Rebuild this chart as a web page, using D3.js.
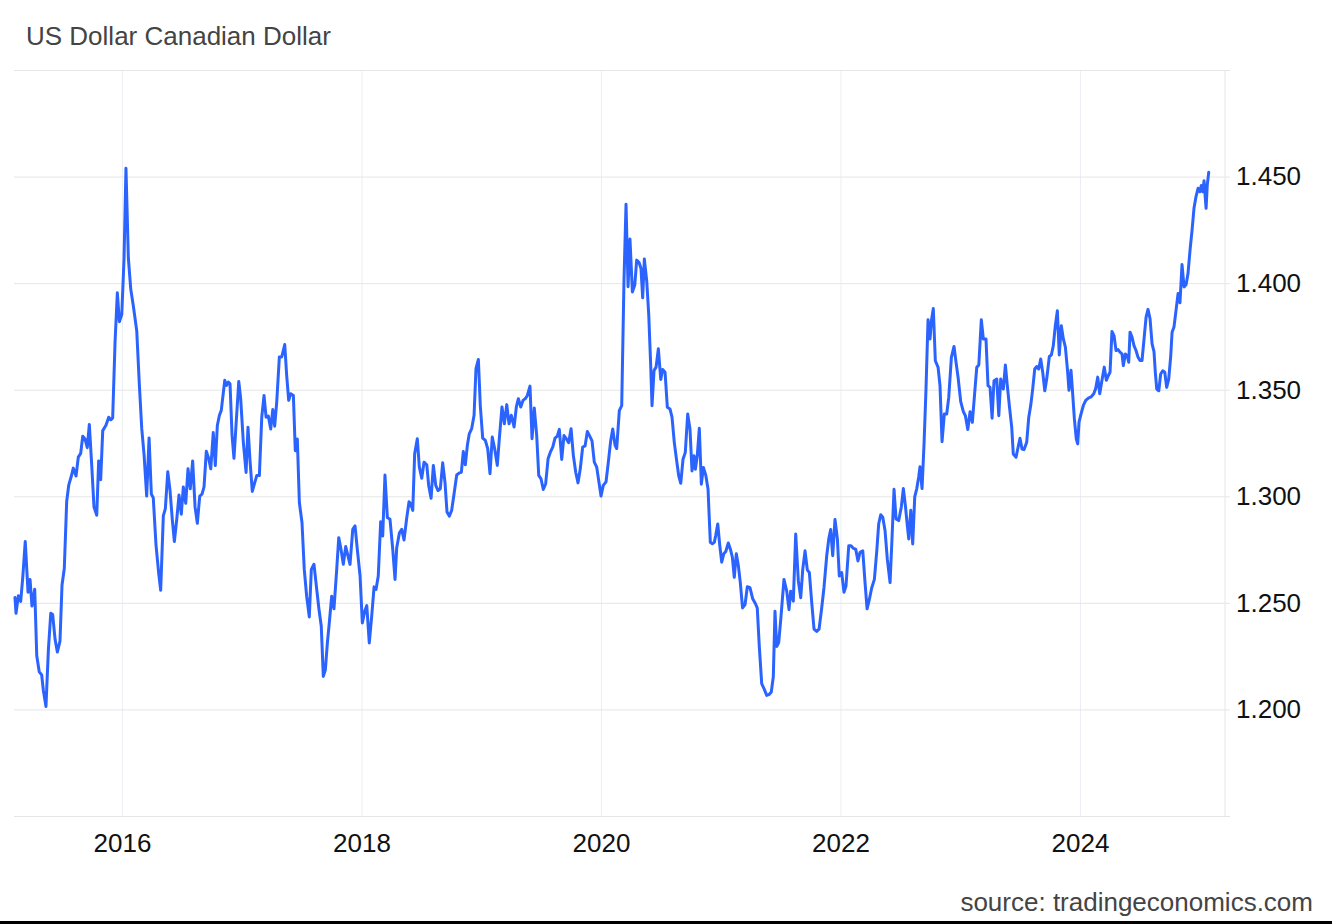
<!DOCTYPE html>
<html>
<head>
<meta charset="utf-8">
<script src="https://cdn.jsdelivr.net/npm/d3@7"></script>
<style>
  html, body { margin: 0; padding: 0; background: #fff; }
  svg { display: block; font-family: "Liberation Sans", Arial, sans-serif; }
</style>
</head>
<body>
<svg id="chart" width="1332" height="924"></svg>
<script>
const title = "US Dollar Canadian Dollar";
const source = "source: tradingeconomics.com";
const xTicks = [2016, 2018, 2020, 2022, 2024];
const yTicks = [1.20, 1.25, 1.30, 1.35, 1.40, 1.45];
const yDomain = [1.15, 1.50];
const xDomain = [2015.098, 2025.211];

// decimal-year dates of the weekly observations
const years = [
2015.106,2015.115,2015.134,2015.154,2015.171,2015.192,2015.215,2015.232,2015.248,2015.271,
2015.288,2015.309,2015.329,2015.343,2015.365,2015.385,2015.405,2015.421,2015.441,2015.460,
2015.482,2015.499,2015.518,2015.538,2015.555,2015.577,2015.593,2015.616,2015.635,2015.655,
2015.672,2015.691,2015.710,2015.727,2015.747,2015.766,2015.789,2015.805,2015.822,2015.839,
2015.866,2015.889,2015.906,2015.922,2015.942,2015.961,2015.978,2015.998,2016.017,2016.033,
2016.053,2016.073,2016.094,2016.123,2016.145,2016.165,2016.184,2016.206,2016.226,2016.245,
2016.261,2016.284,2016.307,2016.323,2016.345,2016.362,2016.382,2016.401,2016.420,2016.437,
2016.457,2016.476,2016.495,2016.512,2016.532,2016.551,2016.570,2016.590,2016.610,2016.629,
2016.649,2016.668,2016.685,2016.704,2016.724,2016.741,2016.762,2016.779,2016.796,2016.813,
2016.829,2016.858,2016.874,2016.888,2016.902,2016.919,2016.935,2016.952,2016.975,2016.991,
2017.013,2017.036,2017.052,2017.069,2017.088,2017.105,2017.125,2017.147,2017.167,2017.186,
2017.203,2017.222,2017.242,2017.259,2017.275,2017.292,2017.314,2017.334,2017.359,2017.375,
2017.392,2017.409,2017.431,2017.447,2017.464,2017.481,2017.503,2017.522,2017.542,2017.564,
2017.581,2017.603,2017.626,2017.645,2017.664,2017.681,2017.698,2017.715,2017.731,2017.751,
2017.770,2017.793,2017.810,2017.829,2017.848,2017.868,2017.887,2017.904,2017.927,2017.946,
2017.965,2017.988,2018.007,2018.027,2018.044,2018.065,2018.085,2018.105,2018.121,2018.140,
2018.160,2018.177,2018.196,2018.216,2018.238,2018.261,2018.280,2018.294,2018.316,2018.336,
2018.355,2018.378,2018.397,2018.411,2018.428,2018.444,2018.466,2018.483,2018.503,2018.522,
2018.545,2018.561,2018.581,2018.600,2018.620,2018.639,2018.658,2018.678,2018.697,2018.714,
2018.733,2018.753,2018.773,2018.795,2018.817,2018.834,2018.850,2018.867,2018.884,2018.900,
2018.920,2018.940,2018.956,2018.976,2018.992,2019.012,2019.034,2019.054,2019.073,2019.092,
2019.112,2019.134,2019.151,2019.173,2019.193,2019.213,2019.232,2019.251,2019.274,2019.293,
2019.310,2019.330,2019.349,2019.368,2019.385,2019.407,2019.424,2019.443,2019.463,2019.480,
2019.499,2019.518,2019.538,2019.558,2019.577,2019.597,2019.616,2019.635,2019.652,2019.672,
2019.691,2019.710,2019.730,2019.750,2019.769,2019.789,2019.808,2019.827,2019.847,2019.867,
2019.886,2019.906,2019.925,2019.944,2019.964,2019.983,2020.000,2020.019,2020.042,2020.061,
2020.081,2020.098,2020.117,2020.131,2020.153,2020.173,2020.192,2020.209,2020.226,2020.242,
2020.262,2020.282,2020.298,2020.318,2020.334,2020.348,2020.362,2020.382,2020.399,2020.415,
2020.426,2020.443,2020.460,2020.479,2020.499,2020.515,2020.535,2020.554,2020.576,2020.593,
2020.612,2020.632,2020.649,2020.666,2020.685,2020.704,2020.724,2020.743,2020.760,2020.777,
2020.788,2020.804,2020.821,2020.838,2020.855,2020.875,2020.894,2020.902,2020.913,2020.930,
2020.946,2020.958,2020.975,2020.992,2021.008,2021.025,2021.042,2021.063,2021.080,2021.097,
2021.113,2021.130,2021.147,2021.163,2021.182,2021.203,2021.222,2021.244,2021.267,2021.289,
2021.305,2021.322,2021.342,2021.361,2021.384,2021.406,2021.422,2021.439,2021.453,2021.467,
2021.484,2021.501,2021.528,2021.551,2021.570,2021.584,2021.606,2021.626,2021.648,2021.668,
2021.685,2021.704,2021.723,2021.740,2021.760,2021.779,2021.801,2021.821,2021.843,2021.862,
2021.885,2021.902,2021.918,2021.935,2021.954,2021.974,2021.990,2022.010,2022.029,2022.046,
2022.069,2022.088,2022.107,2022.127,2022.146,2022.163,2022.186,2022.205,2022.222,2022.241,
2022.261,2022.283,2022.303,2022.319,2022.336,2022.353,2022.372,2022.391,2022.414,2022.430,
2022.447,2022.464,2022.486,2022.508,2022.525,2022.541,2022.558,2022.570,2022.587,2022.603,
2022.620,2022.637,2022.653,2022.664,2022.681,2022.698,2022.714,2022.731,2022.748,2022.759,
2022.775,2022.792,2022.815,2022.831,2022.848,2022.867,2022.887,2022.904,2022.926,2022.948,
2022.965,2022.982,2023.004,2023.026,2023.043,2023.063,2023.082,2023.101,2023.121,2023.138,
2023.155,2023.176,2023.193,2023.215,2023.232,2023.249,2023.266,2023.282,2023.305,2023.322,
2023.338,2023.360,2023.377,2023.393,2023.410,2023.430,2023.443,2023.466,2023.483,2023.499,
2023.516,2023.533,2023.555,2023.572,2023.589,2023.605,2023.622,2023.639,2023.655,2023.672,
2023.689,2023.706,2023.722,2023.744,2023.761,2023.777,2023.794,2023.811,2023.827,2023.844,
2023.861,2023.878,2023.896,2023.908,2023.925,2023.936,2023.953,2023.969,2023.981,2023.992,
2024.009,2024.028,2024.048,2024.070,2024.092,2024.115,2024.131,2024.148,2024.165,2024.181,
2024.203,2024.220,2024.237,2024.251,2024.267,2024.284,2024.301,2024.318,2024.334,2024.351,
2024.362,2024.379,2024.395,2024.407,2024.418,2024.435,2024.451,2024.468,2024.485,2024.501,
2024.518,2024.535,2024.552,2024.568,2024.585,2024.602,2024.618,2024.629,2024.641,2024.658,
2024.674,2024.691,2024.708,2024.724,2024.741,2024.758,2024.769,2024.785,2024.802,2024.819,
2024.835,2024.852,2024.869,2024.886,2024.902,2024.919,2024.936,2024.952,2024.969,2024.986,
2025.002,2025.013,2025.025,2025.036,2025.053,2025.063,2025.075
];

// USD/CAD close
const values = [
1.2525,1.2451,1.2533,1.2507,1.2618,1.2788,1.2550,1.2610,1.2485,1.2564,
1.2252,1.2176,1.2162,1.2090,1.2014,1.2278,1.2451,1.2445,1.2329,1.2269,
1.2320,1.2584,1.2661,1.2976,1.3052,1.3095,1.3132,1.3095,1.3184,1.3201,
1.3282,1.3269,1.3228,1.3337,1.3146,1.2950,1.2911,1.3166,1.3078,1.3308,
1.3333,1.3371,1.3359,1.3367,1.3725,1.3955,1.3819,1.3853,1.4117,1.4539,
1.4117,1.3972,1.3895,1.3776,1.3521,1.3316,1.3197,1.3001,1.3274,1.3010,
1.2993,1.2771,1.2635,1.2559,1.2908,1.2942,1.3115,1.3027,1.2891,1.2788,
1.2891,1.3006,1.2916,1.3044,1.2967,1.3129,1.3035,1.3166,1.2950,1.2873,
1.3001,1.3010,1.3044,1.3211,1.3177,1.3129,1.3299,1.3144,1.3332,1.3379,
1.3403,1.3544,1.3520,1.3536,1.3528,1.3285,1.3178,1.3332,1.3539,1.3458,
1.3254,1.3112,1.3324,1.3167,1.3023,1.3057,1.3097,1.3097,1.3371,1.3473,
1.3371,1.3376,1.3316,1.3407,1.3329,1.3442,1.3654,1.3654,1.3712,1.3568,
1.3450,1.3481,1.3473,1.3214,1.3269,1.2971,1.2877,1.2657,1.2531,1.2434,
1.2657,1.2681,1.2563,1.2469,1.2390,1.2155,1.2186,1.2312,1.2406,1.2531,
1.2472,1.2657,1.2806,1.2751,1.2681,1.2764,1.2720,1.2681,1.2845,1.2861,
1.2751,1.2626,1.2406,1.2461,1.2487,1.2312,1.2437,1.2575,1.2563,1.2626,
1.2880,1.2814,1.3100,1.2900,1.2892,1.2751,1.2610,1.2759,1.2827,1.2845,
1.2795,1.2900,1.2974,1.2965,1.2934,1.3200,1.3270,1.3137,1.3085,1.3160,
1.3148,1.3051,1.2991,1.3145,1.3051,1.3027,1.3035,1.3157,1.3066,1.2926,
1.2907,1.2934,1.3012,1.3100,1.3110,1.3113,1.3210,1.3148,1.3239,1.3293,
1.3317,1.3380,1.3599,1.3642,1.3426,1.3273,1.3262,1.3223,1.3106,1.3278,
1.3223,1.3145,1.3270,1.3419,1.3340,1.3430,1.3340,1.3380,1.3325,1.3419,
1.3458,1.3419,1.3450,1.3458,1.3473,1.3517,1.3270,1.3414,1.3286,1.3098,
1.3082,1.3032,1.3059,1.3176,1.3207,1.3231,1.3273,1.3282,1.3314,1.3173,
1.3285,1.3270,1.3251,1.3317,1.3192,1.3113,1.3063,1.3129,1.3231,1.3236,
1.3304,1.3282,1.3260,1.3160,1.3137,1.3066,1.3001,1.3051,1.3068,1.3159,
1.3261,1.3316,1.3240,1.3224,1.3402,1.3425,1.4014,1.4370,1.3983,1.4207,
1.3959,1.3991,1.4108,1.4097,1.4069,1.3931,1.4113,1.4009,1.3849,1.3614,
1.3425,1.3590,1.3606,1.3692,1.3548,1.3595,1.3582,1.3418,1.3410,1.3371,
1.3253,1.3166,1.3096,1.3061,1.3174,1.3206,1.3386,1.3316,1.3119,1.3190,
1.3127,1.3190,1.3319,1.3057,1.3135,1.3099,1.3033,1.2925,1.2784,1.2777,
1.2784,1.2816,1.2870,1.2769,1.2691,1.2730,1.2741,1.2781,1.2753,1.2714,
1.2620,1.2730,1.2675,1.2597,1.2476,1.2492,1.2576,1.2571,1.2519,1.2497,
1.2476,1.2295,1.2121,1.2098,1.2066,1.2071,1.2082,1.2153,1.2461,1.2295,
1.2314,1.2421,1.2610,1.2555,1.2468,1.2555,1.2508,1.2823,1.2603,1.2524,
1.2658,1.2744,1.2655,1.2642,1.2500,1.2377,1.2366,1.2377,1.2476,1.2571,
1.2721,1.2800,1.2844,1.2721,1.2891,1.2800,1.2626,1.2642,1.2550,1.2579,
1.2768,1.2768,1.2756,1.2752,1.2697,1.2737,1.2744,1.2595,1.2472,1.2516,
1.2571,1.2610,1.2744,1.2871,1.2913,1.2902,1.2839,1.2705,1.2595,1.2800,
1.3033,1.2894,1.2886,1.2950,1.3036,1.2961,1.2863,1.2800,1.2934,1.2776,
1.2997,1.3036,1.3091,1.3139,1.3036,1.3250,1.3503,1.3828,1.3738,1.3823,
1.3881,1.3636,1.3605,1.3519,1.3256,1.3386,1.3386,1.3464,1.3652,1.3703,
1.3628,1.3558,1.3444,1.3397,1.3378,1.3313,1.3397,1.3347,1.3488,1.3605,
1.3616,1.3828,1.3738,1.3738,1.3519,1.3511,1.3366,1.3542,1.3550,1.3378,
1.3550,1.3503,1.3616,1.3519,1.3425,1.3323,1.3198,1.3183,1.3230,1.3272,
1.3222,1.3219,1.3253,1.3370,1.3428,1.3503,1.3597,1.3609,1.3597,1.3644,
1.3581,1.3495,1.3550,1.3656,1.3663,1.3706,1.3800,1.3870,1.3663,1.3800,
1.3738,1.3700,1.3590,1.3497,1.3591,1.3505,1.3364,1.3270,1.3246,1.3348,
1.3387,1.3426,1.3450,1.3461,1.3466,1.3481,1.3505,1.3559,1.3481,1.3536,
1.3606,1.3544,1.3567,1.3582,1.3773,1.3754,1.3684,1.3688,1.3676,1.3668,
1.3613,1.3668,1.3657,1.3629,1.3770,1.3746,1.3707,1.3684,1.3652,1.3637,
1.3637,1.3739,1.3841,1.3877,1.3833,1.3715,1.3679,1.3582,1.3503,1.3495,
1.3574,1.3589,1.3582,1.3511,1.3550,1.3660,1.3770,1.3794,1.3872,1.3951,
1.3908,1.4087,1.3982,1.3993,1.4045,1.4155,1.4249,1.4351,1.4406,1.4445,
1.4429,1.4458,1.4429,1.4480,1.4351,1.4461,1.4520
];

const W = 1332, H = 924;
const plot = { left: 14, right: 1225, top: 70, bottom: 816 };
const FONT = "'Liberation Sans', Arial, sans-serif";

const svg = d3.select("#chart");
svg.append("rect").attr("width", W).attr("height", H).attr("fill", "#fff");

const x = d3.scaleLinear().domain(xDomain).range([plot.left, plot.right]);
const y = d3.scaleLinear().domain(yDomain).range([plot.bottom, plot.top]);

// vertical year gridlines + labels
const xAxis = d3.axisBottom(x)
  .tickValues(xTicks)
  .tickFormat(d3.format("d"))
  .tickSize(-(plot.bottom - plot.top))
  .tickPadding(18);
const gx = svg.append("g")
  .attr("transform", `translate(0,${plot.bottom})`)
  .call(xAxis);
gx.select(".domain").remove();
gx.selectAll(".tick line").attr("stroke", "#ebeef3").attr("stroke-width", 1);
gx.selectAll(".tick text")
  .attr("fill", "#111")
  .style("font-size", "26px")
  .style("font-family", FONT);

// horizontal gridlines + right labels
const yAll = [yDomain[0]].concat(yTicks, [yDomain[1]]);
const yAxis = d3.axisRight(y)
  .tickValues(yAll)
  .tickFormat(d => yTicks.includes(d) ? d3.format(".3f")(d) : "")
  .tickSize(1230 - plot.left)
  .tickPadding(6);
const gy = svg.append("g")
  .attr("transform", `translate(${plot.left},0)`)
  .call(yAxis);
gy.select(".domain").remove();
gy.selectAll(".tick line").attr("stroke", "#e6e6e6").attr("stroke-width", 1);
gy.selectAll(".tick text")
  .attr("fill", "#111")
  .style("font-size", "26px")
  .style("font-family", FONT);

// right axis line
svg.append("line")
  .attr("x1", plot.right).attr("x2", plot.right)
  .attr("y1", plot.top).attr("y2", plot.bottom + 1)
  .attr("stroke", "#e6e6e6").attr("stroke-width", 1);

// series line
const pts = years.map((t, i) => [t, values[i]]);
const line = d3.line().x(d => x(d[0])).y(d => y(d[1]));
svg.append("path")
  .datum(pts)
  .attr("d", line)
  .attr("fill", "none")
  .attr("stroke", "#2b63ff")
  .attr("stroke-width", 3)
  .attr("stroke-linejoin", "round")
  .attr("stroke-linecap", "round");

// title
svg.append("text")
  .attr("x", 26).attr("y", 45)
  .attr("fill", "#444")
  .style("font-size", "26px")
  .style("font-family", FONT)
  .text(title);

// source
svg.append("text")
  .attr("x", 1313).attr("y", 911)
  .attr("text-anchor", "end")
  .attr("fill", "#444")
  .style("font-size", "26px")
  .style("font-family", FONT)
  .text(source);

// bottom black rule
svg.append("rect")
  .attr("x", 0).attr("y", 921).attr("width", W).attr("height", 3)
  .attr("fill", "#000");
</script>
</body>
</html>
